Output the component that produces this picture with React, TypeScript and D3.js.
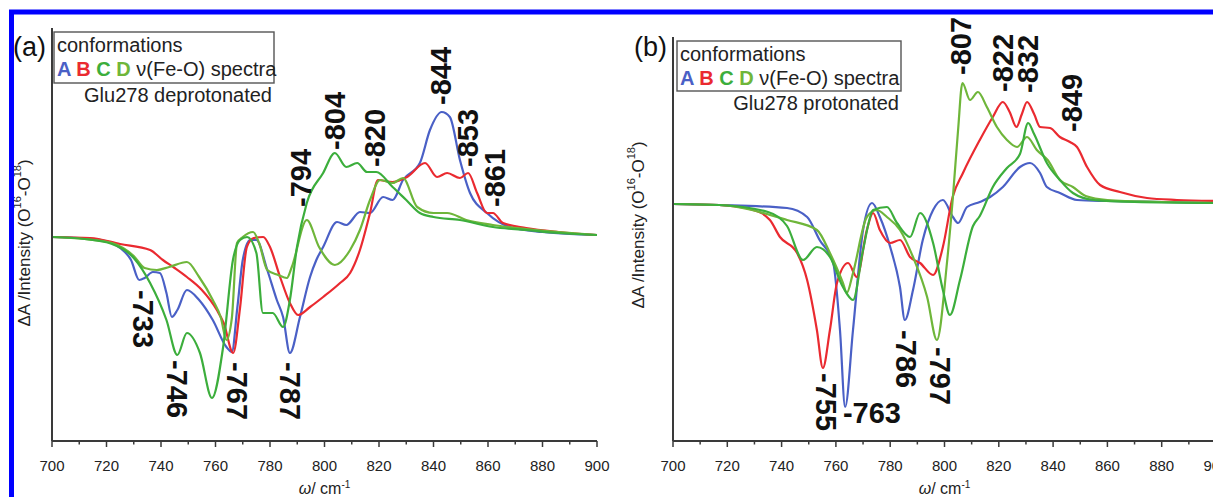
import React from "react";
import * as d3 from "d3";

type Pt = [number, number];

// wavenumber (cm-1), difference intensity (arb. units)
const leftA: Pt[] = [
  [700, 0.01], [710, 0.0], [718, -0.02], [725, -0.1], [729, -0.22], [732, -0.42], [734, -0.4],
  [737, -0.34], [739.6, -0.35], [742, -0.55], [744, -0.79], [746, -0.72], [749.5, -0.52],
  [754, -0.62], [759, -0.82], [764, -1.09], [766, -1.14], [768, -0.7], [770, -0.22],
  [772.7, -0.02], [775, -0.02], [779, -0.32], [782.5, -0.62], [784.8, -0.79], [787.3, -1.15],
  [791, -0.79], [794.7, -0.39], [797, -0.22], [799.5, -0.09], [804.6, 0.16], [808, 0.13],
  [813, 0.26], [816.7, 0.25], [821.5, 0.41], [825, 0.38], [828.8, 0.58], [835, 0.75],
  [838.7, 1.08], [843, 1.26], [846, 1.21], [849.7, 0.78], [853.4, 0.45], [859.6, 0.25],
  [868, 0.11], [880, 0.06], [890, 0.04], [900, 0.03],
];
const leftB: Pt[] = [
  [700, 0.01], [714, 0.0], [725, -0.06], [736, -0.12], [740.7, -0.22], [745, -0.3],
  [749.5, -0.39], [755, -0.52], [760.5, -0.72], [763, -0.85], [766.5, -1.15], [769, -0.7],
  [771.5, -0.09], [774, 0.0], [777.5, 0.01], [780, -0.09], [783.7, -0.39], [787.3, -0.65],
  [790.3, -0.77], [794.7, -0.69], [799.5, -0.59], [805.7, -0.45], [809.4, -0.35], [813, -0.12],
  [816.7, 0.25], [819.6, 0.58], [825, 0.56], [830.3, 0.61], [836.9, 0.75], [841.3, 0.61],
  [845, 0.65], [849.7, 0.6], [852.7, 0.65], [856, 0.45], [859.6, 0.25], [861.8, 0.25],
  [865.5, 0.15], [874, 0.1], [886, 0.06], [900, 0.03],
];
const leftC: Pt[] = [
  [700, 0.01], [712, -0.01], [722, -0.06], [730, -0.2], [736, -0.45], [742, -0.82], [746, -1.17],
  [749.5, -0.95], [754.3, -1.15], [758.7, -1.6], [762.8, -1.09], [766.4, -0.22], [769, -0.02],
  [771.6, 0.01], [775, -0.15], [777.4, -0.75], [781, -0.75], [784.8, -0.89], [787.3, -0.62],
  [789.9, -0.09], [793.5, 0.35], [799.5, 0.65], [803.8, 0.85], [808, 0.71], [812, 0.75],
  [815.6, 0.66], [819, 0.66], [825, 0.51], [830, 0.38], [835, 0.25], [840, 0.21],
  [849.7, 0.18], [861.8, 0.11], [874, 0.08], [886, 0.05], [900, 0.03],
];
const leftD: Pt[] = [
  [700, 0.01], [712, -0.01], [722, -0.05], [730, -0.18], [734, -0.3], [738.5, -0.32],
  [743, -0.29], [749.5, -0.24], [754, -0.39], [759, -0.62], [762, -0.8], [764, -1.02],
  [766, -0.8], [767.9, -0.05], [770, 0.01], [773.8, 0.06], [776, -0.05], [779, -0.32],
  [783, -0.37], [786.2, -0.4], [788, -0.29], [793.5, 0.18], [798, -0.09], [803.8, -0.27],
  [809.4, -0.12], [813, 0.08], [816.7, 0.38], [820.4, 0.58], [825, 0.55], [828.8, 0.6],
  [834, 0.31], [840, 0.25], [845, 0.25], [852, 0.18], [861.8, 0.13], [874, 0.09],
  [886, 0.06], [900, 0.03],
];

const rightA: Pt[] = [
  [700, 0.0], [717, -0.01], [742, -0.04], [749.4, -0.13], [754, -0.36], [759, -0.59],
  [761.5, -1.26], [763.4, -2.03], [766.3, -1.26], [770, -0.26], [773.3, 0.01], [776.2, -0.13],
  [780, -0.43], [783.6, -0.83], [785.4, -1.16], [788.4, -0.86], [792, -0.36], [795.8, -0.06],
  [799.4, 0.04], [803.1, -0.13], [805, -0.19], [808.3, -0.03], [813, 0.02], [816.8, 0.07],
  [821.5, 0.17], [827.8, 0.37], [831.5, 0.41], [835.2, 0.31], [837.7, 0.17], [842.5, 0.11],
  [848.8, 0.04], [860, 0.03], [880, 0.02], [900, 0.01],
];
const rightB: Pt[] = [
  [700, 0.0], [717, -0.01], [729.5, -0.06], [735.7, -0.16], [739.4, -0.33], [745.7, -0.49],
  [749.4, -0.76], [753, -1.26], [755.2, -1.64], [757.8, -1.26], [760.4, -0.79], [764.5, -0.59],
  [767.7, -0.73], [771.4, -0.26], [773.7, -0.09], [776.2, -0.26], [780, -0.39], [783.6, -0.36],
  [787.3, -0.53], [791, -0.59], [795.8, -0.71], [799.4, -0.43], [803, 0.07], [806.8, 0.31],
  [813, 0.64], [817.8, 0.87], [821.5, 1.02], [824, 0.92], [826.5, 0.77], [828.5, 0.9],
  [830.4, 1.02], [833, 0.9], [835.2, 0.77], [838.9, 0.76], [842.5, 0.67], [846.2, 0.62],
  [848.8, 0.57], [852.5, 0.37], [857.3, 0.19], [864.6, 0.12], [874.6, 0.06], [885.6, 0.04],
  [900, 0.03],
];
const rightC: Pt[] = [
  [700, 0.0], [717, -0.01], [735, -0.08], [742, -0.22], [747.9, -0.56], [753, -0.43],
  [757.8, -0.53], [762.6, -0.83], [766.3, -0.96], [770, -0.46], [773.7, -0.06], [778.8, -0.03],
  [782.5, -0.19], [787.3, -0.33], [791, -0.09], [795.8, -0.39], [799.4, -0.86], [802, -1.11],
  [805.7, -0.76], [810.5, -0.22], [813, -0.12], [817.8, 0.17], [823, 0.36], [827.8, 0.5],
  [830.8, 0.81], [833, 0.7], [837.7, 0.41], [842.5, 0.24], [847.3, 0.11], [855, 0.04],
  [870, 0.02], [900, 0.01],
];
const rightD: Pt[] = [
  [700, 0.0], [717, -0.01], [742, -0.16], [753, -0.26], [757.8, -0.49], [762.6, -0.79],
  [764, -0.89], [766.3, -0.69], [771.4, -0.13], [775, -0.06], [778.8, -0.13], [783.6, -0.26],
  [788.4, -0.53], [793.6, -0.93], [797.2, -1.36], [800.9, -0.59], [803.1, 0.07], [805, 0.74],
  [806.6, 1.21], [809.4, 1.04], [812.3, 1.12], [815.6, 0.97], [819.3, 0.77], [823, 0.64],
  [826.7, 0.57], [830.4, 0.67], [834, 0.54], [838, 0.44], [842.5, 0.24], [847.3, 0.17],
  [852, 0.08], [860, 0.04], [880, 0.02], [900, 0.01],
];

// peak annotations: text, wavenumber, intensity at the end nearest the curve, rotation
const leftLabels: [string, number, number, number][] = [
  ["-733", 733.4, -0.52, 90], ["-746", 745.9, -1.22, 90], ["-767", 767.9, -1.24, 90],
  ["-787", 787.3, -1.24, 90], ["-794", 791.4, 0.31, -90], ["-804", 803.9, 0.88, -90],
  ["-820", 818.5, 0.71, -90], ["-844", 842.8, 1.33, -90], ["-853", 852.7, 0.71, -90],
  ["-861", 862.6, 0.31, -90],
];
const rightLabels: [string, number, number, number][] = [
  ["-807", 806.1, 1.29, -90], ["-822", 821.5, 1.12, -90], ["-832", 830.8, 1.11, -90],
  ["-849", 847.0, 0.72, -90], ["-755", 756.4, -1.69, 90], ["-763", 762.6, -2.19, 0],
  ["-786", 785.8, -1.26, 90], ["-797", 798.3, -1.43, 90],
];

const xTicks = d3.range(700, 901, 20);
const xMinor = d3.range(710, 900, 20);
const seriesNames = ["A", "B", "C", "D"];

const colors: Record<string, string> = {
  A: "#4a60c6",
  B: "#ea2a30",
  C: "#3cae3c",
  D: "#6fb63a",
};
const font = "'Liberation Sans', Arial, Helvetica, sans-serif";
const axisCol = "#3a3a3a";

type PanelDef = {
  tag: string;
  xr: [number, number];
  yd: [number, number];
  yr: [number, number];
  series: Pt[][];
  labels: [string, number, number, number][];
  box: [number, number, number, number];
  note: string;
  ylabX: number;
  ylabY: number;
};

const panels: PanelDef[] = [
  {
    tag: "(a)", xr: [52, 597], yd: [-2.03, 2.1], yr: [441, 28],
    series: [leftA, leftB, leftD, leftC], labels: leftLabels,
    box: [54, 32, 274, 83], note: "Glu278 deprotonated", ylabX: 24, ylabY: 243,
  },
  {
    tag: "(b)", xr: [673, 1216], yd: [-2.37, 1.67], yr: [441, 37],
    series: [rightA, rightB, rightD, rightC], labels: rightLabels,
    box: [677, 41, 901, 91], note: "Glu278 protonated", ylabX: 638, ylabY: 225,
  },
];
const seriesOrder = ["A", "B", "D", "C"];

function Panel({ p }: { p: PanelDef }) {
  const x = d3.scaleLinear().domain([700, 900]).range(p.xr);
  const y = d3.scaleLinear().domain(p.yd).range(p.yr);
  const line = d3
    .line<Pt>()
    .x((d) => x(d[0]))
    .y((d) => y(d[1]))
    .curve(d3.curveMonotoneX);
  const [bx0, by0, bx1, by1] = p.box;
  const y0 = p.yr[0];
  return (
    <g fontFamily={font}>
      {/* curves */}
      {p.series.map((s, i) => (
        <path key={i} d={line(s) || ""} fill="none" stroke={colors[seriesOrder[i]]}
          strokeWidth={2.2} strokeLinejoin="round" />
      ))}
      {/* axes */}
      <line x1={p.xr[0]} x2={p.xr[0]} y1={p.yr[1]} y2={y0} stroke={axisCol} strokeWidth={2} />
      <line x1={p.xr[0]} x2={Math.min(p.xr[1], 1213)} y1={y0} y2={y0} stroke={axisCol} strokeWidth={2} />
      {xTicks.map((t) => (
        <g key={t}>
          <line x1={x(t)} x2={x(t)} y1={y0} y2={y0 + 6} stroke={axisCol} strokeWidth={1.5} />
          <text x={x(t)} y={471} textAnchor="middle" fontSize={15} fill="#222">{t}</text>
        </g>
      ))}
      {xMinor.map((t) => (
        <line key={t} x1={x(t)} x2={x(t)} y1={y0} y2={y0 + 3.5} stroke={axisCol} strokeWidth={1.5} />
      ))}
      <text x={x(800)} y={494} textAnchor="middle" fontSize={16} fill="#222">
        <tspan fontStyle="italic">ω</tspan>/ cm
        <tspan dy={-6} fontSize={10}>-1</tspan>
      </text>
      <text transform={`translate(${p.ylabX},${p.ylabY}) rotate(-90)`} textAnchor="middle"
        dominantBaseline="central" fontSize={17} fill="#222">
        ΔA /Intensity (O<tspan dy={-7} fontSize={11}>16</tspan>
        <tspan dy={7}>-O</tspan><tspan dy={-7} fontSize={11}>18</tspan><tspan dy={7}>)</tspan>
      </text>
      {/* panel tag */}
      <text x={p.xr[0] - 39} y={56} fontSize={27} fill="#111">{p.tag}</text>
      {/* legend */}
      <rect x={bx0} y={by0} width={bx1 - bx0} height={by1 - by0} fill="none" stroke="#555" strokeWidth={1.4} />
      <text x={bx0 + 3} y={by0 + 20} fontSize={20} fill="#222">conformations</text>
      <text x={bx0 + 3} y={by0 + 44} fontSize={20} fill="#222">
        {seriesNames.map((n) => (
          <tspan key={n} fill={colors[n]} fontWeight="bold">{n} </tspan>
        ))}
        <tspan>ν(Fe-O) spectra</tspan>
      </text>
      <text x={bx1 - 2} y={by1 + 19} textAnchor="end" fontSize={20} fill="#222">{p.note}</text>
      {/* peak labels */}
      {p.labels.map(([t, w, v, r]) =>
        r === 0 ? (
          <text key={t} x={x(w)} y={y(v)} fontSize={29} fontWeight="bold" fill="#111">{t}</text>
        ) : (
          <text key={t} transform={`translate(${x(w)},${y(v)}) rotate(${r})`}
            textAnchor="start" dominantBaseline="central"
            fontSize={29} fontWeight="bold" fill="#111">{t}</text>
        )
      )}
    </g>
  );
}

export default function App() {
  return (
    <svg width={1213} height={497} viewBox="0 0 1213 497"
      style={{ position: "absolute", left: 0, top: 0, background: "#fff", display: "block" }}>
      <rect width={1213} height={497} fill="#fff" />
      {panels.map((p) => <Panel key={p.tag} p={p} />)}
      <path d="M11.5,497 V12 H1213" fill="none" stroke="#0000ff" strokeWidth={5} />
    </svg>
  );
}
